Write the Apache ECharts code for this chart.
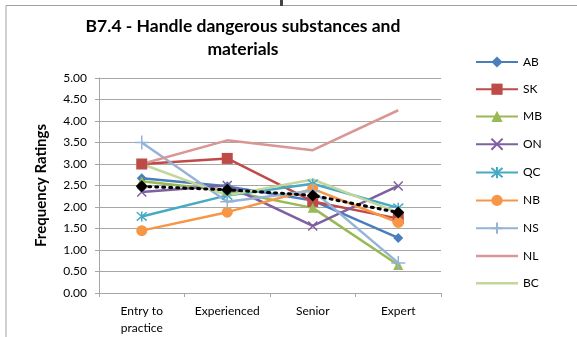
<!DOCTYPE html>
<html>
<head>
<meta charset="utf-8">
<script src="https://cdn.jsdelivr.net/npm/echarts@6/dist/echarts.min.js"></script>
<style>
  html, body { margin: 0; padding: 0; background: #fff; }
  #chart { width: 577px; height: 337px; }
</style>
</head>
<body>
<div id="chart"></div>
<script>
// categories and tick labels
var categories = ['Entry to\npractice', 'Experienced', 'Senior', 'Expert'];
var yTicks = [0, 0.5, 1, 1.5, 2, 2.5, 3, 3.5, 4, 4.5, 5];

// series values
var AB = [2.67, 2.48, 2.15, 1.28];
var SK = [3.00, 3.13, 2.13, 1.73];
var MB = [2.60, 2.38, 1.98, 0.65];
var ON = [2.35, 2.50, 1.56, 2.49];
var QC = [1.78, 2.27, 2.54, 1.98];
var NB = [1.45, 1.88, 2.42, 1.64];
var NS = [3.50, 2.12, 2.38, 0.70];
var NL = [3.00, 3.55, 3.32, 4.25];
var BC = [3.00, 2.27, 2.64, 1.87];
var average = [2.48, 2.40, 2.27, 1.87];

var font = 'Lato, "Open Sans", sans-serif';

function line(name, data, color, symbol, size, hollow) {
  return {
    name: name,
    type: 'line',
    data: data,
    symbol: symbol,
    symbolSize: size,
    showSymbol: symbol !== 'none',
    lineStyle: { color: color, width: 2.5 },
    itemStyle: hollow
      ? { color: color, borderColor: color, borderWidth: 1.5 }
      : { color: color },
    emphasis: { disabled: true },
    z: 3
  };
}

var xPath = 'path://M0,0L10,10M10,0L0,10';
var starPath = 'path://M0,0L10,10M10,0L0,10M5,-1L5,11';
var plusPath = 'path://M5,0L5,10M3,5L7,5';
// legend icon for the series drawn without markers: just a bar
var barIcon = 'path://M0,0L42,0L42,2.5L0,2.5Z';

var series = [
  line('AB', AB, '#4A7EBB', 'diamond', 10),
  line('SK', SK, '#BE4B48', 'rect', 11),
  line('MB', MB, '#98B954', 'triangle', 10),
  line('ON', ON, '#7D60A0', xPath, 9, true),
  line('QC', QC, '#46AAC5', starPath, 10, true),
  line('NB', NB, '#F79646', 'circle', 11),
  line('NS', NS, '#95B3D7', plusPath, 14, true),
  line('NL', NL, '#D99694', 'none', 0),
  line('BC', BC, '#C3D69B', 'none', 0),
  {
    name: 'Average',
    type: 'line',
    data: average,
    symbol: 'diamond',
    symbolSize: 12,
    lineStyle: { color: '#000', width: 3, type: [2, 5], cap: 'round' },
    itemStyle: { color: '#000' },
    emphasis: { disabled: true },
    z: 4
  }
];

var option = {
  animation: false,
  backgroundColor: '#fff',
  title: {
    text: 'B7.4 - Handle dangerous substances and\nmaterials',
    left: 238,
    textAlign: 'center',
    top: 10,
    textStyle: { fontFamily: font, fontSize: 17.5, fontWeight: 'bold', color: '#000', lineHeight: 23 }
  },
  legend: {
    data: ['AB', 'SK', 'MB', 'ON', 'QC', 'NB', 'NS',
      { name: 'NL', icon: barIcon }, { name: 'BC', icon: barIcon }],
    orient: 'vertical',
    left: 470,
    top: 51,
    itemWidth: 42,
    itemHeight: 14,
    itemGap: 15.2,
    textStyle: { fontFamily: font, fontSize: 12, color: '#000' }
  },
  grid: { left: 99, right: 136, top: 78, bottom: 42 },
  xAxis: {
    type: 'category',
    data: categories,
    boundaryGap: true,
    axisLine: { lineStyle: { color: '#A6A6A6' } },
    axisTick: { show: true, length: 4, lineStyle: { color: '#A6A6A6' } },
    axisLabel: { fontFamily: font, fontSize: 12, color: '#000', margin: 10, lineHeight: 17 }
  },
  yAxis: {
    type: 'value',
    min: yTicks[0],
    max: yTicks[yTicks.length - 1],
    interval: 0.5,
    name: 'Frequency Ratings',
    nameLocation: 'middle',
    nameGap: 50,
    nameTextStyle: { fontFamily: font, fontSize: 15, fontWeight: 'bold', color: '#000' },
    axisLine: { show: true, lineStyle: { color: '#A6A6A6' } },
    axisTick: { show: true, length: 4, lineStyle: { color: '#A6A6A6' } },
    axisLabel: {
      fontFamily: font, fontSize: 12, color: '#000', margin: 12,
      formatter: function (v) { return v.toFixed(2); }
    },
    splitLine: { lineStyle: { color: '#A6A6A6' } }
  },
  graphic: [
    { type: 'rect', shape: { x: 6, y: 5.5, width: 700, height: 500 }, style: { fill: 'none', stroke: '#A0A0A0', lineWidth: 1 }, silent: true },
    { type: 'rect', shape: { x: 280, y: 0, width: 3, height: 6 }, style: { fill: '#444' }, silent: true }
  ],
  series: series
};

var myChart = echarts.init(document.getElementById('chart'));
myChart.setOption(option);
</script>
</body>
</html>
